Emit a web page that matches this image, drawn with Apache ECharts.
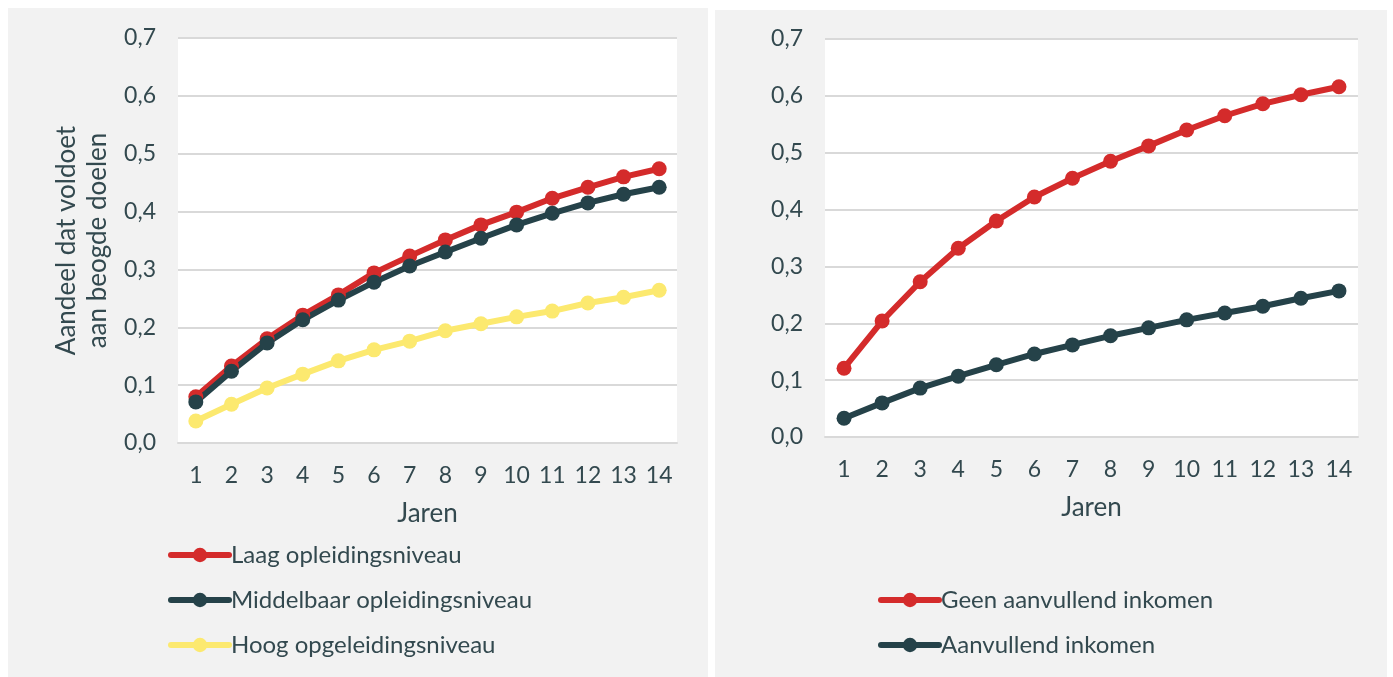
<!DOCTYPE html>
<html>
<head>
<meta charset="utf-8">
<script src="https://cdn.jsdelivr.net/npm/echarts@6/dist/echarts.min.js"></script>
<style>
  body { margin: 0; background: #fff; }
  .panel { position: absolute; background: #f2f2f2; }
</style>
</head>
<body>
<div id="left" class="panel" style="left:8px; top:8px; width:700px; height:669px;"></div>
<div id="right" class="panel" style="left:715px; top:10px; width:672px; height:667px;"></div>
<script>
const jaren = ['1', '2', '3', '4', '5', '6', '7', '8', '9', '10', '11', '12', '13', '14']
const yTicks = [0, 0.1, 0.2, 0.3, 0.4, 0.5, 0.6, 0.7]

// links: opleidingsniveau
const laag = [0.080, 0.133, 0.180, 0.221, 0.256, 0.294, 0.323, 0.351, 0.377, 0.399, 0.423, 0.442, 0.460, 0.474]
const middelbaar = [0.071, 0.124, 0.173, 0.213, 0.247, 0.278, 0.306, 0.330, 0.354, 0.377, 0.397, 0.415, 0.430, 0.442]
const hoog = [0.038, 0.067, 0.095, 0.119, 0.142, 0.161, 0.176, 0.194, 0.206, 0.218, 0.228, 0.242, 0.252, 0.264]

// rechts: aanvullend inkomen
const geenAanvullend = [0.121, 0.204, 0.273, 0.332, 0.380, 0.422, 0.455, 0.485, 0.512, 0.540, 0.565, 0.586, 0.602, 0.616]
const aanvullend = [0.033, 0.060, 0.086, 0.107, 0.127, 0.146, 0.162, 0.178, 0.192, 0.206, 0.218, 0.230, 0.244, 0.257]

const RED = '#d42b2b'
const DARK = '#254249'
const YELLOW = '#fce96f'
const TEXT = '#33494f'
const FONT = 'Lato'

const makeSeries = (name, data, color) => ({
  name,
  type: 'line',
  data,
  symbol: 'circle',
  symbolSize: 15,
  lineStyle: { width: 6, color },
  itemStyle: { color },
  emphasis: { disabled: true },
})

const baseOption = (grid, legend, yName, series) => ({
  animation: false,
  textStyle: { fontFamily: FONT, color: TEXT },
  grid: Object.assign({ show: true, backgroundColor: '#fff', borderWidth: 0 }, grid),
  legend: Object.assign({
    orient: 'vertical',
    itemWidth: 58,
    itemHeight: 18,
    itemGap: 21,
    lineStyle: { width: 6, cap: 'round' },
    textStyle: { fontFamily: FONT, fontSize: 24, lineHeight: 24, color: TEXT, padding: [0, 0, 0, -3] },
  }, legend),
  xAxis: {
    type: 'category',
    data: jaren,
    boundaryGap: true,
    name: 'Jaren',
    nameLocation: 'middle',
    nameGap: 58,
    nameTextStyle: { fontFamily: FONT, fontSize: 26, color: TEXT },
    axisLine: { lineStyle: { color: '#d9d9d9', width: 2 } },
    axisTick: { show: false },
    axisLabel: { fontFamily: FONT, fontSize: 23, color: TEXT, margin: 21 },
  },
  yAxis: {
    type: 'value',
    min: 0,
    max: 0.7,
    interval: 0.1,
    name: yName,
    nameLocation: 'middle',
    nameRotate: 90,
    nameGap: 64,
    nameTextStyle: { fontFamily: FONT, fontSize: 26, color: TEXT, lineHeight: 31 },
    axisLine: { show: false },
    axisTick: { show: false },
    splitLine: { lineStyle: { color: '#d9d9d9', width: 2 } },
    axisLabel: {
      fontFamily: FONT,
      fontSize: 23,
      color: TEXT,
      margin: 22,
      formatter: (v) => v.toFixed(1).replace('.', ','),
    },
  },
  series,
})

const leftChart = echarts.init(document.getElementById('left'))
leftChart.setOption(baseOption(
  { left: 170, top: 30, width: 499, height: 405 },
  { left: 155, top: 530 },
  'Aandeel dat voldoet\naan beogde doelen',
  [
    makeSeries('Laag opleidingsniveau', laag, RED),
    makeSeries('Middelbaar opleidingsniveau', middelbaar, DARK),
    makeSeries('Hoog opgeleidingsniveau', hoog, YELLOW),
  ],
))

const rightChart = echarts.init(document.getElementById('right'))
rightChart.setOption(baseOption(
  { left: 110, top: 29, width: 533, height: 398 },
  { left: 158, top: 573 },
  '',
  [
    makeSeries('Geen aanvullend inkomen', geenAanvullend, RED),
    makeSeries('Aanvullend inkomen', aanvullend, DARK),
  ],
))
</script>
</body>
</html>
